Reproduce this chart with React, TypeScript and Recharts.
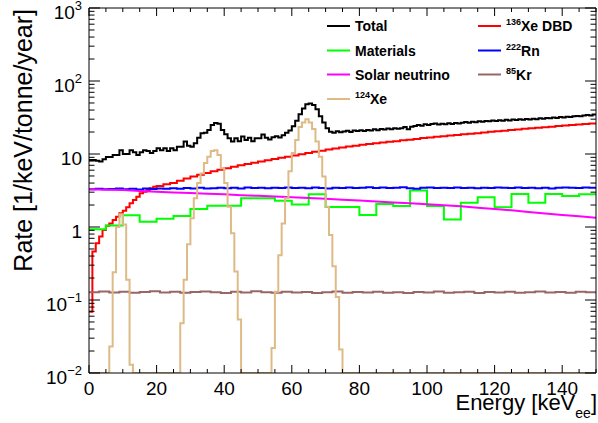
import React from "react";
import { LineChart, Line, XAxis, YAxis } from "recharts";

const W = 598;
const H = 423;
const FONT = "'Liberation Sans', Arial, Helvetica, sans-serif";

// rates in 1/keV/tonne/year, bins in keV
const totalRate = [
  8.3, 8.3, 8.1, 7.9, 8.5, 9.1, 9.1, 9.7, 9.7, 11.3,
  10.0, 10.0, 11.3, 10.6, 9.7, 10.6, 11.3, 11.0, 10.3, 11.0,
  12.0, 11.3, 12.0, 11.0, 12.0, 11.3, 12.6, 12.6, 14.8, 13.0,
  12.6, 14.0, 16.7, 19.2, 19.5, 21.4, 25.0, 26.5, 26.0, 21.4,
  18.6, 16.4, 14.8, 16.4, 15.0, 17.3, 15.5, 16.7, 15.0, 16.4,
  16.4, 18.5, 16.7, 15.8, 17.0, 17.5, 16.8, 18.0, 19.5, 21.0,
  24.0, 28.5, 35.0, 42.0, 48.0, 49.0, 47.0, 41.0, 33.0, 27.0,
  22.5, 20.2, 19.5, 20.5, 19.8, 20.4, 20.8, 20.0, 21.0, 20.6,
  21.2, 20.6, 21.4, 21.0, 21.8, 21.2, 22.0, 21.6, 22.4, 21.8,
  22.6, 22.2, 22.5, 23.4, 21.8, 23.6, 24.2, 25.0, 24.4, 25.6,
  25.0, 25.8, 26.2, 25.4, 26.0, 25.6, 26.4, 25.8, 26.6, 26.2,
  26.8, 27.4, 26.8, 27.6, 27.2, 28.0, 27.6, 28.4, 28.0, 28.8,
  28.4, 29.0, 28.6, 29.4, 28.8, 29.6, 29.2, 30.0, 29.4, 30.2,
  29.8, 30.4, 30.0, 30.8, 30.4, 31.2, 30.8, 31.6, 31.2, 32.0,
  31.6, 32.4, 32.0, 32.8, 33.2, 32.8, 33.6, 34.2, 33.8, 34.8,
];

// 136Xe DBD: 1 keV bins below 20 keV, 2 keV bins above
const dbdLow = [
  0.069, 0.46, 0.6, 0.74, 0.91, 1.04, 1.12, 1.25, 1.38, 1.54,
  1.67, 1.87, 2.11, 2.35, 2.6, 2.9, 3.05, 3.2, 3.4, 3.55,
];
const dbdHigh = [
  3.65, 3.85, 4.0, 4.3, 4.6, 4.9, 5.2, 5.5, 5.8, 6.1,
  6.4, 6.7, 7.0, 7.3, 7.6, 7.9, 8.2, 8.55, 8.9, 9.2,
  9.55, 9.9, 10.3, 10.7, 11.1, 11.5, 11.9, 12.3, 12.7, 13.0,
  13.4, 13.7, 14.0, 14.4, 14.7, 15.0, 15.4, 15.7, 16.1, 16.5,
  16.8, 17.2, 17.5, 17.9, 18.2, 18.6, 19.0, 19.3, 19.7, 20.1,
  20.5, 20.9, 21.3, 21.7, 22.1, 22.5, 22.9, 23.3, 23.7, 24.1,
  24.5, 24.9, 25.3, 25.7, 26.1,
];

// 5 keV bins
const materialsRate = [
  0.93, 1.05, 1.45, 1.18, 1.3, 1.41, 1.77, 1.95, 1.95, 2.47,
  2.47, 2.29, 2.04, 2.8, 1.88, 1.88, 1.46, 2.07, 1.94, 3.15,
  1.94, 1.27, 2.15, 2.55, 1.87, 2.83, 2.15, 2.83, 2.66, 2.8,
];

// sampled every 5 keV
const solarRate = [
  3.3, 3.25, 3.2, 3.12, 3.05, 2.98, 2.92, 2.86, 2.8, 2.73,
  2.67, 2.61, 2.55, 2.49, 2.43, 2.37, 2.3, 2.24, 2.17, 2.11,
  2.05, 1.98, 1.92, 1.84, 1.76, 1.69, 1.61, 1.53, 1.46, 1.4, 1.34,
];

// 2 keV bins
const rnRate = [
  3.30, 3.35, 3.28, 3.32, 3.38, 3.30, 3.34, 3.27, 3.36, 3.31,
  3.38, 3.33, 3.40, 3.35, 3.42, 3.36, 3.44, 3.38, 3.40, 3.46,
  3.40, 3.44, 3.38, 3.47, 3.41, 3.45, 3.39, 3.46, 3.42, 3.48,
  3.41, 3.45, 3.40, 3.47, 3.43, 3.38, 3.46, 3.42, 3.48, 3.41,
  3.45, 3.50, 3.43, 3.47, 3.41, 3.46, 3.49, 3.40, 3.33, 3.44,
  3.48, 3.42, 3.46, 3.41, 3.47, 3.43, 3.45, 3.40, 3.46, 3.42,
  3.48, 3.44, 3.41, 3.47, 3.43, 3.45, 3.40, 3.46, 3.36, 3.44,
  3.48, 3.45, 3.42, 3.47, 3.44,
];

// 3 keV bins
const krRate = [
  0.128, 0.131, 0.127, 0.130, 0.126, 0.129, 0.132, 0.127, 0.130, 0.126,
  0.129, 0.131, 0.128, 0.125, 0.130, 0.127, 0.132, 0.128, 0.126, 0.130,
  0.127, 0.129, 0.125, 0.128, 0.131, 0.126, 0.129, 0.127, 0.130, 0.126,
  0.128, 0.125, 0.129, 0.127, 0.131, 0.126, 0.128, 0.130, 0.125, 0.129,
  0.127, 0.130, 0.126, 0.128, 0.131, 0.127, 0.129, 0.126, 0.130, 0.128,
];

// 124Xe: bin lower edges and contents (0.01 = below the frame)
const xe124Edges = [
  0, 6, 7, 8, 9, 10, 11, 12, 13,
  27, 28, 29, 30, 31, 32, 33, 34, 35, 36, 37, 38, 39, 40, 41, 42, 43, 44, 45,
  54, 55, 56, 57, 58, 59, 60, 61, 62, 63, 64, 65, 66, 67, 68, 69, 70, 71, 72, 73, 74, 75,
];
const xe124Rate = [
  0.01, 0.023, 0.24, 1.0, 1.5, 1.08, 0.19, 0.013, 0.01,
  0.048, 0.19, 0.58, 1.32, 2.47, 4.0, 5.4, 7.5, 9.2, 11, 11.3, 9.7, 6.4, 4.0, 1.9, 0.82, 0.245, 0.054, 0.01,
  0.022, 0.13, 0.41, 1.12, 2.47, 5.8, 10.3, 15.5, 23.4, 27, 30, 27, 22, 14.8, 9.2, 4.9, 1.9, 0.78, 0.29, 0.11, 0.021, 0.01,
];

const xMajor = [0, 20, 40, 60, 80, 100, 120, 140];
const yMajor = [0.01, 0.1, 1, 10, 100, 1000];
const yLabels: Record<string, [string, string]> = {
  "0.01": ["10", "\u22122"],
  "0.1": ["10", "\u22121"],
  "1": ["1", ""],
  "10": ["10", ""],
  "100": ["10", "2"],
  "1000": ["10", "3"],
};

const xTicks: number[] = [];
for (let e = 0; e <= 150; e += 5) xTicks.push(e);
const yTicks: number[] = [];
for (let k = -2; k <= 2; k++) {
  for (let m = 1; m <= 9; m++) yTicks.push(Number((m * Math.pow(10, k)).toPrecision(3)));
}
yTicks.push(1000);

type Pt = { e: number; v: number };
const hist = (start: number, width: number, vals: number[]): Pt[] =>
  vals.map((v, i) => ({ e: start + i * width, v }));
const close = (pts: Pt[]): Pt[] => [...pts, { e: 150, v: pts[pts.length - 1].v }];

const totalPts = close(hist(0, 1, totalRate));
const dbdPts = close([...hist(0, 1, dbdLow), ...hist(20, 2, dbdHigh)]);
const materialsPts = close(hist(0, 5, materialsRate));
const solarPts = hist(0, 5, solarRate);
const rnPts = close(hist(0, 2, rnRate));
const krPts = close(hist(0, 3, krRate));
const xePts = close(xe124Edges.map((e, i) => ({ e, v: xe124Rate[i] })));

const isMajorY = (v: number) => yMajor.includes(v);

const LeftTick = (props: any) => {
  const { x, y, payload } = props;
  const v = payload.value;
  const major = isMajorY(v);
  const lab = yLabels[String(v)];
  return (
    <g>
      <line x1={x} x2={x + (major ? 11 : 5.5)} y1={y} y2={y} stroke="#000" strokeWidth={1} />
      {major && lab && (
        <text x={x - 7} y={y + 11} textAnchor="end" fontSize={19} fontFamily={FONT} fill="#000">
          {lab[0]}
          {lab[1] && (
            <tspan fontSize={13} dy={-9}>
              {lab[1]}
            </tspan>
          )}
        </text>
      )}
    </g>
  );
};

const RightTick = (props: any) => {
  const { x, y, payload } = props;
  const major = isMajorY(payload.value);
  return <line x1={x} x2={x - (major ? 11 : 5.5)} y1={y} y2={y} stroke="#000" strokeWidth={1} />;
};

const BottomTick = (props: any) => {
  const { x, y, payload } = props;
  const v = payload.value;
  const major = xMajor.includes(v);
  return (
    <g>
      <line x1={x} x2={x} y1={y} y2={y - (major ? 8 : 4)} stroke="#000" strokeWidth={1} />
      {major && (
        <text x={x} y={y + 22} textAnchor="middle" fontSize={19} fontFamily={FONT} fill="#000">
          {v}
        </text>
      )}
    </g>
  );
};

const TopTick = (props: any) => {
  const { x, y, payload } = props;
  const major = xMajor.includes(payload.value);
  return <line x1={x} x2={x} y1={y} y2={y + (major ? 8 : 4)} stroke="#000" strokeWidth={1} />;
};

const legendLeft = [
  { color: "#000000", label: "Total", sup: "" },
  { color: "#00ff00", label: "Materials", sup: "" },
  { color: "#ff00ff", label: "Solar neutrino", sup: "" },
  { color: "#deba87", label: "Xe", sup: "124" },
];
const legendRight = [
  { color: "#ff0000", label: "Xe DBD", sup: "136" },
  { color: "#0000ff", label: "Rn", sup: "222" },
  { color: "#996666", label: "Kr", sup: "85" },
];
const legendRows = [26, 50.5, 74.5, 99];

const LegendEntry = ({ x, y, item }: { x: number; y: number; item: { color: string; label: string; sup: string } }) => (
  <g>
    <line x1={x} x2={x + 23} y1={y} y2={y} stroke={item.color} strokeWidth={2} />
    <text x={x + 28} y={y + 5} fontSize={14} fontWeight="bold" fontFamily={FONT} fill="#000">
      {item.sup && (
        <tspan fontSize={9} dy={-6}>
          {item.sup}
        </tspan>
      )}
      {item.sup ? <tspan dy={6}>{item.label}</tspan> : item.label}
    </text>
  </g>
);

const App = () => {
  const common = { dataKey: "v", dot: false, isAnimationActive: false, strokeWidth: 2, xAxisId: "b", yAxisId: "l" } as const;
  return (
    <div style={{ position: "absolute", left: 0, top: 0, width: W, height: H, background: "#fff" }}>
      <LineChart width={W} height={H} margin={{ top: 7, right: 1, bottom: 0, left: 8 }}>
        <XAxis
          xAxisId="b"
          dataKey="e"
          type="number"
          domain={[0, 150]}
          ticks={xTicks}
          interval={0}
          height={50}
          tickSize={0}
          tickMargin={0}
          tickLine={false}
          axisLine={{ stroke: "#000", strokeWidth: 1 }}
          tick={<BottomTick />}
          allowDataOverflow
        />
        <XAxis
          xAxisId="t"
          orientation="top"
          dataKey="e"
          type="number"
          domain={[0, 150]}
          ticks={xTicks}
          interval={0}
          height={1}
          tickSize={0}
          tickMargin={0}
          tickLine={false}
          axisLine={{ stroke: "#000", strokeWidth: 1 }}
          tick={<TopTick />}
          allowDataOverflow
        />
        <YAxis
          yAxisId="l"
          scale="log"
          domain={[0.01, 1000]}
          ticks={yTicks}
          interval={0}
          width={81}
          tickSize={0}
          tickMargin={0}
          tickLine={false}
          axisLine={{ stroke: "#000", strokeWidth: 1 }}
          tick={<LeftTick />}
          allowDataOverflow
        />
        <YAxis
          yAxisId="r"
          orientation="right"
          scale="log"
          domain={[0.01, 1000]}
          ticks={yTicks}
          interval={0}
          width={1}
          tickSize={0}
          tickMargin={0}
          tickLine={false}
          axisLine={{ stroke: "#000", strokeWidth: 1 }}
          tick={<RightTick />}
          allowDataOverflow
        />
        <Line {...common} data={totalPts} type="stepAfter" stroke="#000000" />
        <Line {...common} data={dbdPts} type="stepAfter" stroke="#ff0000" />
        <Line {...common} data={materialsPts} type="stepAfter" stroke="#00ff00" />
        <Line {...common} data={rnPts} type="stepAfter" stroke="#0000ff" />
        <Line {...common} data={solarPts} type="linear" stroke="#ff00ff" />
        <Line {...common} data={krPts} type="stepAfter" stroke="#996666" />
        <Line {...common} data={xePts} type="stepAfter" stroke="#deba87" />
        <Line
          data={krPts}
          dataKey="v"
          xAxisId="t"
          yAxisId="r"
          stroke="none"
          dot={false}
          isAnimationActive={false}
        />
      </LineChart>
      <svg width={W} height={H} style={{ position: "absolute", left: 0, top: 0, pointerEvents: "none" }}>
        <text
          transform="translate(31.5,9) rotate(-90)"
          textAnchor="end"
          fontSize={25}
          fontFamily={FONT}
          fill="#000"
        >
          Rate [1/keV/tonne/year]
        </text>
        <text x={597} y={410} textAnchor="end" fontSize={22} fontFamily={FONT} fill="#000">
          Energy [keV
          <tspan fontSize={14} dy={8}>
            ee
          </tspan>
          <tspan dy={-8}>]</tspan>
        </text>
        {legendLeft.map((it, i) => (
          <LegendEntry key={it.label} x={327} y={legendRows[i]} item={it} />
        ))}
        {legendRight.map((it, i) => (
          <LegendEntry key={it.label} x={478} y={legendRows[i]} item={it} />
        ))}
      </svg>
    </div>
  );
};

export default App;
